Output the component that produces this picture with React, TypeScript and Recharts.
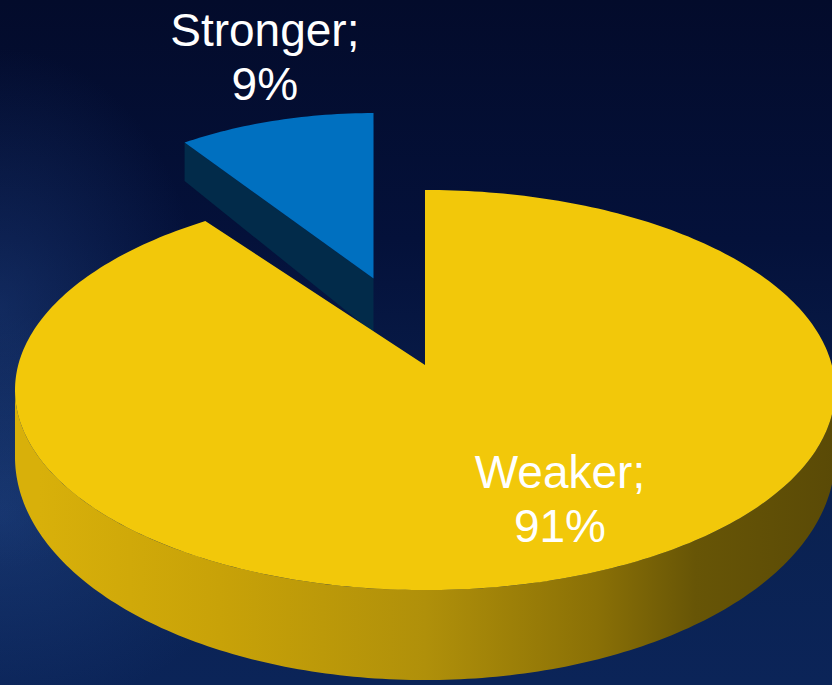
import { PieChart, Pie } from "recharts";

// share of answers
const names = ["Stronger", "Weaker"];
const shares = [9, 91];
const topColors = ["#0070c0", "#f2c80a"];
const faceColors = ["#022b4a", "#8a7006"];

const data = names.map((name, i) => ({
  name,
  value: shares[i],
  fill: topColors[i],
  face: faceColors[i],
}));

// fake 3d look
const TILT = 0.488; // ry / rx of the top ellipse
const DROP = 25; // ellipse centre sits below the apex (perspective)
const EXPLODE: Record<string, number> = { Stronger: 0.45 };
const FAR_SCALE: Record<string, [number, number]> = { Stronger: [0.86, 0.945] };
const LABEL_RADIUS: Record<string, [number, number]> = {
  Stronger: [1.4, 1.74],
  Weaker: [1.18, 0.56],
};
const RAD = Math.PI / 180;

type Pt = { x: number; y: number };

function depthAt(y: number) {
  return 44 + (y - 190) * 0.115;
}

function toPath(pts: Pt[]) {
  return pts.map((p, i) => `${i ? "L" : "M"}${p.x.toFixed(2)},${p.y.toFixed(2)}`).join(" ") + " Z";
}

function Slice3D(props: any) {
  const { cx, cy, outerRadius: R, startAngle, endAngle } = props;
  const entry = props.payload ?? props;
  const name: string = entry.name ?? props.name;
  const a0 = Math.min(startAngle, endAngle);
  const a1 = Math.max(startAngle, endAngle);
  const mid = (a0 + a1) / 2;

  const ex = (EXPLODE[name] ?? 0) * R;
  const [sx, sy] = FAR_SCALE[name] ?? [1, 1];
  const apex = { x: cx + ex * Math.cos(mid * RAD), y: cy - ex * TILT * Math.sin(mid * RAD) };
  const rim = (deg: number): Pt => ({
    x: apex.x + sx * R * Math.cos(deg * RAD),
    y: apex.y + sy * (DROP - R * TILT * Math.sin(deg * RAD)),
  });
  const drop = (p: Pt): Pt => ({ x: p.x, y: p.y + depthAt(p.y) });
  const arc = (from: number, to: number) => {
    const n = Math.max(2, Math.ceil(Math.abs(to - from)));
    const pts: Pt[] = [];
    for (let i = 0; i <= n; i++) pts.push(rim(from + ((to - from) * i) / n));
    return pts;
  };

  const gradId = `wall-${name}`;
  const faceFill = entry.face ?? "#333";
  const topFill = entry.fill ?? props.fill;

  const walls: string[] = [];
  for (let k = 0; k < 2; k++) {
    const lo = Math.max(a0, 180 + 360 * k);
    const hi = Math.min(a1, 360 + 360 * k);
    if (hi > lo) {
      const top = arc(lo, hi);
      const bottom = top.map(drop).reverse();
      walls.push(toPath([...top, ...bottom]));
    }
  }

  const faces: string[] = [];
  if (Math.sin((a0 - 90) * RAD) < -0.01) {
    const r = rim(a0);
    faces.push(toPath([apex, r, drop(r), drop(apex)]));
  }
  if (Math.sin((a1 + 90) * RAD) < -0.01) {
    const r = rim(a1);
    faces.push(toPath([apex, r, drop(r), drop(apex)]));
  }

  return (
    <g>
      <defs>
        <linearGradient id={gradId} gradientUnits="userSpaceOnUse" x1={cx - R} y1={0} x2={cx + R} y2={0}>
          <stop offset="0.03" stopColor="#d8b00a" />
          <stop offset="0.25" stopColor="#c8a208" />
          <stop offset="0.5" stopColor="#b0900a" />
          <stop offset="0.71" stopColor="#8a7006" />
          <stop offset="0.83" stopColor="#675506" />
          <stop offset="1" stopColor="#5a4a06" />
        </linearGradient>
      </defs>
      {faces.map((d, i) => (
        <path key={`f${i}`} d={d} fill={faceFill} />
      ))}
      {walls.map((d, i) => (
        <path key={`w${i}`} d={d} fill={`url(#${gradId})`} />
      ))}
      <path d={toPath([apex, ...arc(a0, a1)])} fill={topFill} />
    </g>
  );
}

function renderLabel(props: any) {
  const { cx, cy, outerRadius: R, name, value } = props;
  const a0 = Math.min(props.startAngle, props.endAngle);
  const a1 = Math.max(props.startAngle, props.endAngle);
  const mid = (a0 + a1) / 2;
  const [fx, fy] = LABEL_RADIUS[name] ?? [1.2, 1.2];
  const x = cx + R * fx * Math.cos(mid * RAD);
  const y = cy + DROP - R * TILT * fy * Math.sin(mid * RAD);
  return (
    <text
      x={x}
      y={y - 10}
      fill="#ffffff"
      fontSize={46}
      fontFamily="'Liberation Sans', Arial, sans-serif"
      textAnchor="middle"
    >
      <tspan x={x} y={y - 10}>{`${name};`}</tspan>
      <tspan x={x} y={y + 44}>{`${value}%`}</tspan>
    </text>
  );
}

export default function App() {
  return (
    <div
      style={{
        position: "absolute",
        left: 0,
        top: 0,
        width: 832,
        height: 685,
        overflow: "hidden",
        background:
          "radial-gradient(ellipse 200px 260px at 0% 45%, rgba(40,80,150,0.35), rgba(40,80,150,0) 100%), radial-gradient(ellipse 260px 200px at 0% 75%, rgba(40,80,150,0.4), rgba(40,80,150,0) 100%), linear-gradient(180deg, #030b2b 0%, #04113a 35%, #0a2150 70%, #0b2458 100%)",
      }}
    >
      <PieChart width={832} height={685} margin={{ top: 0, right: 0, bottom: 0, left: 0 }}>
        <Pie
          data={data}
          dataKey="value"
          nameKey="name"
          cx={425}
          cy={365}
          outerRadius={410}
          startAngle={90}
          endAngle={450}
          stroke="none"
          isAnimationActive={false}
          labelLine={false}
          label={renderLabel}
          shape={Slice3D}
          inactiveShape={Slice3D}
          activeShape={Slice3D}
        />
      </PieChart>
    </div>
  );
}
